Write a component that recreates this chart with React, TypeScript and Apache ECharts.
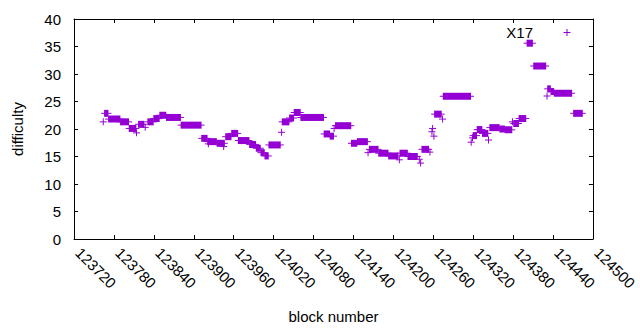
import React, { useEffect, useRef } from "react";
import * as echarts from "echarts";

// Runs of consecutive blocks sharing (roughly) the same difficulty
const blockStart = [
  123764, 123766, 123772, 123790, 123803, 123814, 123817, 123827, 123831, 123840,
  123849, 123859, 123881, 123912, 123921, 123922, 123935, 123945, 123948, 123957,
  123967, 123984, 123994, 124001, 124007, 124013, 124032, 124033, 124044, 124051,
  124061, 124096, 124105, 124111, 124113, 124137, 124146, 124162, 124164, 124178,
  124193, 124209, 124210, 124222, 124239, 124241, 124243, 124255, 124258, 124259,
  124261, 124262, 124274, 124275, 124317, 124319, 124320, 124326, 124334, 124343,
  124345, 124360, 124368, 124379, 124381, 124389, 124401, 124411, 124431, 124432,
  124437, 124442, 124471,
];
const blockEnd = [
  123764, 123771, 123789, 123802, 123813, 123814, 123825, 123827, 123839, 123848,
  123858, 123880, 123911, 123920, 123934, 123922, 123946, 123945, 123956, 123966,
  123983, 123993, 124000, 124006, 124012, 124030, 124032, 124043, 124050, 124060,
  124095, 124104, 124110, 124111, 124136, 124145, 124161, 124162, 124177, 124192,
  124207, 124209, 124221, 124236, 124239, 124241, 124253, 124255, 124258, 124259,
  124261, 124272, 124274, 124316, 124317, 124319, 124325, 124333, 124342, 124343,
  124359, 124367, 124378, 124379, 124388, 124399, 124409, 124429, 124431, 124436,
  124441, 124468, 124484,
];
const difficulty = [
  21.3, 22.85, 21.8, 21.3, 20.1, 19.3, 20.85, 20.3, 21.3, 21.9,
  22.5, 22.1, 20.7, 18.3, 17.7, 17.3, 17.4, 16.8, 18.6, 19.2,
  17.9, 17.2, 16.5, 15.7, 15.1, 17.1, 19.4, 21.3, 22.0, 23.0,
  22.1, 19.1, 18.7, 20.1, 20.6, 17.4, 17.7, 15.7, 16.3, 15.6,
  15.1, 14.4, 15.6, 15.0, 14.5, 13.8, 16.3, 15.8, 19.5, 20.1,
  18.7, 22.7, 21.8, 25.95, 17.6, 18.4, 18.8, 19.9, 19.2, 18.0,
  20.25, 20.0, 19.85, 21.3, 21.0, 21.9, 35.6, 31.45, 26.0, 27.3,
  26.8, 26.5, 22.85,
];

const xMin = 123720;
const xMax = 124500;
const xStep = 60;
const yMin = 0;
const yMax = 40;
const yStep = 5;

const seriesName = "X17";
const xTitle = "block number";
const yTitle = "difficulty";

const COLOR = "#9400d3";
const FONT = "'Liberation Sans', Arial, sans-serif";
const FS = 15;

export default function App() {
  const ref = useRef<HTMLDivElement>(null);
  useEffect(() => {
    if (!ref.current) return;
    const chart = echarts.init(ref.current, undefined, { renderer: "svg" });
    const data = blockStart.map((s, i) => [s, blockEnd[i], difficulty[i]]);
    const H = 3.5;
    const axisCommon = {
      axisLine: { show: true, onZero: false, lineStyle: { color: "#000", width: 1 } },
      axisTick: { show: true, inside: true, length: 4, lineStyle: { color: "#000", width: 1 } },
      splitLine: { show: false },
    };
    chart.setOption({
      animation: false,
      backgroundColor: "#fff",
      textStyle: { fontFamily: FONT },
      grid: { left: 74, top: 19, width: 535, height: 220, containLabel: false },
      xAxis: [
        {
          type: "value",
          min: xMin,
          max: xMax,
          interval: xStep,
          position: "bottom",
          ...axisCommon,
          axisLabel: {
            rotate: -45,
            margin: 7,
            padding: [0, 0, 0, 6],
            color: "#000",
            fontSize: FS,
            fontFamily: FONT,
            showMinLabel: true,
            showMaxLabel: true,
            formatter: (v: number) => String(v),
          },
          name: xTitle,
          nameLocation: "middle",
          nameGap: 70,
          nameTextStyle: { color: "#000", fontSize: FS, fontFamily: FONT },
        },
        {
          type: "value",
          min: xMin,
          max: xMax,
          interval: xStep,
          position: "top",
          ...axisCommon,
          axisLabel: { show: false },
        },
      ],
      yAxis: [
        {
          type: "value",
          min: yMin,
          max: yMax,
          interval: yStep,
          position: "left",
          ...axisCommon,
          axisLabel: { color: "#000", fontSize: FS, fontFamily: FONT, margin: 13 },
          name: yTitle,
          nameLocation: "middle",
          nameGap: 49,
          nameRotate: 90,
          nameTextStyle: { color: "#000", fontSize: FS, fontFamily: FONT },
        },
        {
          type: "value",
          min: yMin,
          max: yMax,
          interval: yStep,
          position: "right",
          ...axisCommon,
          axisLabel: { show: false },
        },
      ],
      series: [
        {
          type: "custom",
          name: seriesName,
          xAxisIndex: 0,
          yAxisIndex: 0,
          dimensions: ["start", "end", "difficulty"],
          encode: { x: [0, 1], y: 2 },
          data,
          renderItem: (params: any, api: any) => {
            const y = api.value(2);
            const p0 = api.coord([api.value(0), y]);
            const p1 = api.coord([api.value(1), y]);
            return {
              type: "group",
              children: [
                {
                  type: "rect",
                  shape: { x: p0[0] - 0.5, y: p0[1] - H, width: p1[0] - p0[0] + 1, height: 2 * H },
                  style: { fill: COLOR },
                },
                {
                  type: "line",
                  shape: { x1: p0[0] - H, y1: p0[1], x2: p1[0] + H, y2: p0[1] },
                  style: { stroke: COLOR, lineWidth: 1 },
                },
              ],
            };
          },
        },
      ],
      graphic: [
        {
          type: "text",
          x: 533,
          y: 32,
          style: {
            text: seriesName,
            fill: "#000",
            fontSize: FS,
            fontFamily: FONT,
            align: "right",
            verticalAlign: "middle",
          },
        },
        {
          type: "line",
          shape: { x1: 563.5, y1: 32.5, x2: 570.5, y2: 32.5 },
          style: { stroke: COLOR, lineWidth: 1 },
        },
        {
          type: "line",
          shape: { x1: 567, y1: 29, x2: 567, y2: 36 },
          style: { stroke: COLOR, lineWidth: 1 },
        },
      ],
    });
    return () => chart.dispose();
  }, []);
  return (
    <div
      ref={ref}
      style={{ position: "fixed", left: 0, top: 0, width: 640, height: 330, background: "#fff" }}
    />
  );
}
